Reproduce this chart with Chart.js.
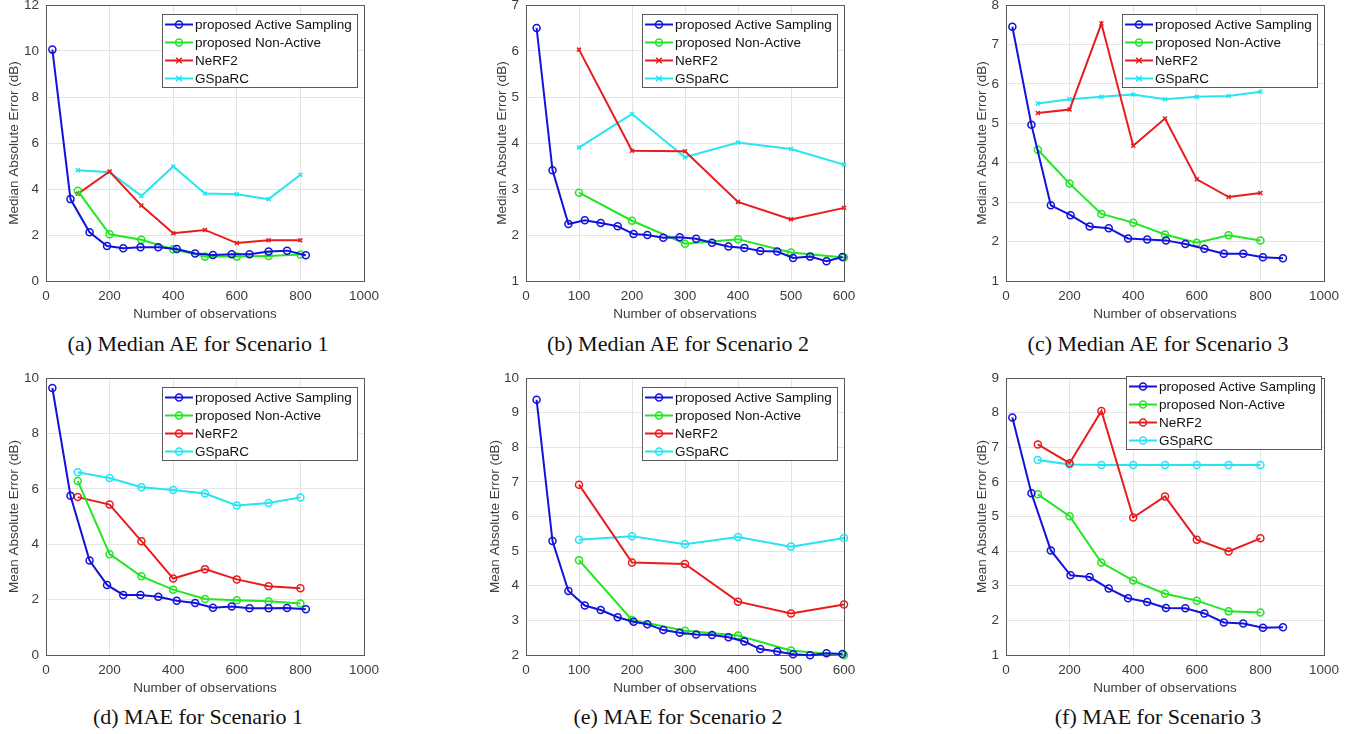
<!DOCTYPE html>
<html>
<head>
<meta charset="utf-8">
<script src="https://cdn.jsdelivr.net/npm/chart.js@4.4.1/dist/chart.umd.min.js"></script>
<style>
  body { margin: 0; background: #fff; width: 1360px; height: 734px; overflow: hidden; position: relative; }
  canvas { position: absolute; }
  .cap { position: absolute; font-family: "Liberation Serif", "Times New Roman", serif; font-size: 22px; color: #111;
         white-space: nowrap; transform: translate(-50%, -50%); }
</style>
</head>
<body>
<canvas id="pa"></canvas><canvas id="pb"></canvas><canvas id="pc"></canvas>
<canvas id="pd"></canvas><canvas id="pe"></canvas><canvas id="pf"></canvas>
<div class="cap" style="left:198px;top:344px">(a) Median AE for Scenario 1</div>
<div class="cap" style="left:678px;top:344px">(b) Median AE for Scenario 2</div>
<div class="cap" style="left:1158px;top:344px">(c) Median AE for Scenario 3</div>
<div class="cap" style="left:198px;top:717px">(d) MAE for Scenario 1</div>
<div class="cap" style="left:678px;top:717px">(e) MAE for Scenario 2</div>
<div class="cap" style="left:1158px;top:717px">(f) MAE for Scenario 3</div>
<script>
const seriesNames = ["proposed Active Sampling", "proposed Non-Active", "NeRF2", "GSpaRC"];

// x positions of the observations
const baseX8 = [100, 200, 300, 400, 500, 600, 700, 800];
const baseX6 = [100, 200, 300, 400, 500, 600];
const s1ActiveX = [20, 77, 137, 192, 243, 297, 353, 411, 469, 525, 584, 640, 700, 758, 817];
const s2ActiveX = [20, 50, 80, 111, 141, 173, 203, 229, 259, 290, 321, 351, 382, 412, 442, 474, 504, 536, 567, 597];
const s3ActiveX = [20, 80, 141, 203, 263, 323, 384, 444, 503, 564, 624, 685, 746, 808, 871];

// (a) median AE, scenario 1
const s1MedActive = [10.06, 3.56, 2.12, 1.52, 1.42, 1.47, 1.47, 1.39, 1.20, 1.13, 1.16, 1.16, 1.28, 1.32, 1.12];
const s1MedNonActive = [3.92, 2.03, 1.79, 1.38, 1.06, 1.06, 1.09, 1.15];
const s1MedNerf = [3.79, 4.76, 3.28, 2.08, 2.22, 1.65, 1.77, 1.77];
const s1MedGsparc = [4.82, 4.73, 3.70, 4.98, 3.80, 3.77, 3.56, 4.62];

// (b) median AE, scenario 2
const s2MedActive = [6.50, 3.41, 2.24, 2.32, 2.26, 2.19, 2.02, 2.00, 1.94, 1.95, 1.92, 1.83, 1.75, 1.72, 1.65, 1.64, 1.50, 1.53, 1.43, 1.52];
const s2MedNonActive = [2.92, 2.31, 1.81, 1.91, 1.62, 1.51];
const s2MedNerf = [6.03, 3.83, 3.82, 2.72, 2.34, 2.59];
const s2MedGsparc = [3.90, 4.63, 3.69, 4.01, 3.87, 3.53];

// (c) median AE, scenario 3
const s3MedActive = [7.45, 4.96, 2.92, 2.67, 2.38, 2.34, 2.08, 2.05, 2.03, 1.94, 1.82, 1.69, 1.69, 1.60, 1.58];
const s3MedNonActive = [4.33, 3.47, 2.70, 2.48, 2.18, 1.97, 2.16, 2.03];
const s3MedNerf = [5.26, 5.35, 7.53, 4.43, 5.12, 3.58, 3.13, 3.23];
const s3MedGsparc = [5.50, 5.61, 5.67, 5.73, 5.61, 5.67, 5.69, 5.80];

// (d) MAE, scenario 1
const s1MaeActive = [9.64, 5.75, 3.41, 2.53, 2.17, 2.17, 2.10, 1.96, 1.88, 1.71, 1.75, 1.69, 1.69, 1.70, 1.65];
const s1MaeNonActive = [6.28, 3.64, 2.84, 2.36, 2.02, 1.98, 1.94, 1.86];
const s1MaeNerf = [5.70, 5.43, 4.11, 2.76, 3.10, 2.73, 2.48, 2.41];
const s1MaeGsparc = [6.60, 6.39, 6.06, 5.96, 5.83, 5.40, 5.49, 5.69];

// (e) MAE, scenario 2
const s2MaeActive = [9.37, 5.29, 3.85, 3.43, 3.30, 3.09, 2.96, 2.89, 2.72, 2.64, 2.59, 2.58, 2.51, 2.39, 2.17, 2.10, 2.02, 1.99, 2.05, 2.03];
const s2MaeNonActive = [4.74, 3.01, 2.70, 2.56, 2.13, 1.99];
const s2MaeNerf = [6.92, 4.67, 4.63, 3.54, 3.20, 3.46];
const s2MaeGsparc = [5.33, 5.43, 5.20, 5.41, 5.13, 5.38];

// (f) MAE, scenario 3
const s3MaeActive = [7.86, 5.67, 4.02, 3.30, 3.25, 2.92, 2.64, 2.53, 2.36, 2.35, 2.20, 1.94, 1.91, 1.79, 1.80];
const s3MaeNonActive = [5.64, 5.01, 3.67, 3.15, 2.77, 2.57, 2.26, 2.23];
const s3MaeNerf = [7.08, 6.54, 8.05, 4.97, 5.58, 4.33, 3.99, 4.37];
const s3MaeGsparc = [6.63, 6.50, 6.49, 6.49, 6.49, 6.49, 6.49, 6.49];

const colors = ["#1212dc", "#22e622", "#e81c1c", "#26e4f0"];
const textColor = "#3c3c3c";

Chart.defaults.font.family = '"Liberation Sans", Arial, sans-serif';
Chart.defaults.font.size = 13.5;

const pts = (xs, ys) => xs.map((x, i) => ({ x: x, y: ys[i] }));

// MATLAB-like box around the axes
const boxPlugin = {
  id: "box",
  beforeDatasetsDraw(chart) {
    const a = chart.chartArea, ctx = chart.ctx;
    ctx.save();
    ctx.strokeStyle = "#5a5a5a";
    ctx.lineWidth = 1;
    ctx.strokeRect(Math.round(a.left) + 0.5, Math.round(a.top) + 0.5, Math.round(a.right - a.left), Math.round(a.bottom - a.top));
    ctx.restore();
  }
};

function drawMarker(ctx, style, x, y, r, color) {
  ctx.strokeStyle = color;
  ctx.lineWidth = 1.5;
  ctx.beginPath();
  if (style === "circle") {
    ctx.arc(x, y, r, 0, Math.PI * 2);
  } else {
    ctx.moveTo(x - r, y - r); ctx.lineTo(x + r, y + r);
    ctx.moveTo(x - r, y + r); ctx.lineTo(x + r, y - r);
  }
  ctx.stroke();
}

// boxed legend inside the axes, top right
const insetLegend = {
  id: "insetLegend",
  afterDraw(chart, args, opts) {
    const ctx = chart.ctx, a = chart.chartArea;
    const w = 195, h = 73;
    const x0 = Math.round(a.right - opts.right - w), y0 = Math.round(a.top + opts.top);
    ctx.save();
    ctx.fillStyle = "#fff";
    ctx.fillRect(x0, y0, w, h);
    ctx.strokeStyle = "#5a5a5a";
    ctx.lineWidth = 1;
    ctx.strokeRect(x0 + 0.5, y0 + 0.5, w, h);
    ctx.font = '13.5px "Liberation Sans", Arial, sans-serif';
    ctx.textBaseline = "middle";
    chart.data.datasets.forEach((ds, i) => {
      const cy = y0 + 10.5 + i * 18;
      ctx.strokeStyle = ds.borderColor;
      ctx.lineWidth = 2;
      ctx.beginPath();
      ctx.moveTo(x0 + 3, cy);
      ctx.lineTo(x0 + 31, cy);
      ctx.stroke();
      drawMarker(ctx, ds.pointStyle, x0 + 17, cy, ds.pointRadius, ds.borderColor);
      ctx.fillStyle = "#111";
      ctx.fillText(ds.label, x0 + 33, cy + 0.5);
    });
    ctx.restore();
  }
};

function makePanel(p) {
  const plotW = 318, plotH = p.plotH, yW = 46, padTop = 8, padRight = 26, xH = 41;
  const cv = document.getElementById(p.id);
  cv.width = yW + plotW + padRight;
  cv.height = padTop + plotH + xH;
  cv.style.left = (p.left - yW) + "px";
  cv.style.top = (p.top - padTop) + "px";

  const marks = p.crossMarks ? ["circle", "circle", "crossRot", "crossRot"] : ["circle", "circle", "circle", "circle"];
  const datasets = p.series.map((s, i) => ({
    label: seriesNames[i],
    data: pts(s[0], s[1]),
    borderColor: colors[i],
    backgroundColor: "rgba(0,0,0,0)",
    borderWidth: 2,
    pointStyle: marks[i],
    pointRadius: marks[i] === "circle" ? 3.5 : 2.8,
    pointBorderWidth: 1.5,
    pointBackgroundColor: "rgba(0,0,0,0)",
    tension: 0,
    clip: 8
  }));

  new Chart(cv, {
    type: "line",
    data: { datasets: datasets },
    options: {
      responsive: false,
      animation: false,
      layout: { padding: { left: 0, right: padRight, top: padTop, bottom: 0 } },
      plugins: {
        legend: { display: false },
        tooltip: { enabled: false },
        insetLegend: { right: p.legRight, top: p.legTop }
      },
      scales: {
        x: {
          type: "linear", min: 0, max: p.xMax,
          ticks: { stepSize: p.xStep, padding: 7, color: textColor, maxRotation: 0, autoSkip: false,
                   callback: (v) => String(v) },
          grid: { color: "#e4e4e4", drawTicks: false },
          border: { display: false },
          title: { display: true, text: "Number of observations", color: textColor, padding: 0 },
          afterFit(s) { s.height = xH; s.paddingLeft = 0; s.paddingRight = 0; }
        },
        y: {
          type: "linear", min: p.yMin, max: p.yMax,
          ticks: { stepSize: p.yStep, padding: 7, color: textColor, callback: (v) => String(v) },
          grid: { color: "#e4e4e4", drawTicks: false },
          border: { display: false },
          title: { display: true, text: p.yTitle, color: textColor, padding: { top: p.yTitlePad, bottom: 0 } },
          afterFit(s) { s.width = yW; s.paddingTop = 0; s.paddingBottom = 0; }
        }
      }
    },
    plugins: [boxPlugin, insetLegend]
  });
}

const medTitle = "Median Absolute Error (dB)";
const maeTitle = "Mean Absolute Error (dB)";

makePanel({ id: "pa", left: 46, top: 5, plotH: 276, xMax: 1000, xStep: 200, yMin: 0, yMax: 12, yStep: 2,
  yTitle: medTitle, yTitlePad: 6, crossMarks: true, legRight: 7, legTop: 9,
  series: [[s1ActiveX, s1MedActive], [baseX8, s1MedNonActive], [baseX8, s1MedNerf], [baseX8, s1MedGsparc]] });
makePanel({ id: "pb", left: 526, top: 5, plotH: 276, xMax: 600, xStep: 100, yMin: 1, yMax: 7, yStep: 1,
  yTitle: medTitle, yTitlePad: 14, crossMarks: true, legRight: 7, legTop: 9,
  series: [[s2ActiveX, s2MedActive], [baseX6, s2MedNonActive], [baseX6, s2MedNerf], [baseX6, s2MedGsparc]] });
makePanel({ id: "pc", left: 1006, top: 5, plotH: 276, xMax: 1000, xStep: 200, yMin: 1, yMax: 8, yStep: 1,
  yTitle: medTitle, yTitlePad: 14, crossMarks: true, legRight: 7, legTop: 9,
  series: [[s3ActiveX, s3MedActive], [baseX8, s3MedNonActive], [baseX8, s3MedNerf], [baseX8, s3MedGsparc]] });
makePanel({ id: "pd", left: 46, top: 378, plotH: 277, xMax: 1000, xStep: 200, yMin: 0, yMax: 10, yStep: 2,
  yTitle: maeTitle, yTitlePad: 6, crossMarks: false, legRight: 7, legTop: 9,
  series: [[s1ActiveX, s1MaeActive], [baseX8, s1MaeNonActive], [baseX8, s1MaeNerf], [baseX8, s1MaeGsparc]] });
makePanel({ id: "pe", left: 526, top: 378, plotH: 277, xMax: 600, xStep: 100, yMin: 2, yMax: 10, yStep: 1,
  yTitle: maeTitle, yTitlePad: 7, crossMarks: false, legRight: 7, legTop: 9,
  series: [[s2ActiveX, s2MaeActive], [baseX6, s2MaeNonActive], [baseX6, s2MaeNerf], [baseX6, s2MaeGsparc]] });
makePanel({ id: "pf", left: 1006, top: 378, plotH: 277, xMax: 1000, xStep: 200, yMin: 1, yMax: 9, yStep: 1,
  yTitle: maeTitle, yTitlePad: 14, crossMarks: false, legRight: 3, legTop: -2,
  series: [[s3ActiveX, s3MaeActive], [baseX8, s3MaeNonActive], [baseX8, s3MaeNerf], [baseX8, s3MaeGsparc]] });
</script>
</body>
</html>
